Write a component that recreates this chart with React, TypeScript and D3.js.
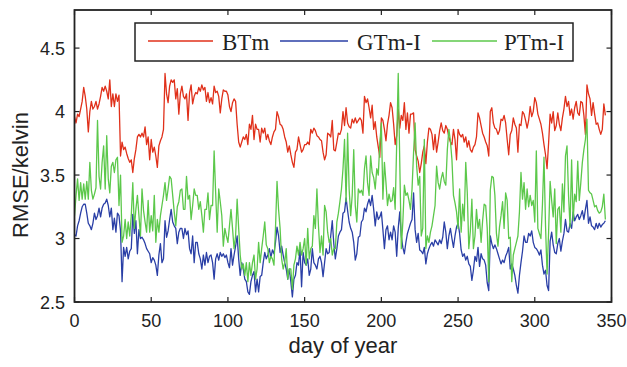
import * as d3 from "d3";

// daily RMSE (kelvin), day 0..346
const btm = [
  3.96, 3.91, 3.98, 3.96, 4.02, 4.08, 4.19, 4.12, 4.02, 3.84,
  4.00, 4.08, 4.02, 4.04, 4.08, 4.02, 4.06, 4.12, 4.19, 4.16,
  4.20, 4.16, 4.10, 4.25, 4.04, 4.14, 4.04, 4.14, 4.08, 4.13,
  3.65, 3.76, 3.70, 3.72, 3.67, 3.63, 3.60, 3.62, 3.52, 3.63,
  3.70, 3.80, 3.82, 3.80, 3.83, 3.80, 3.88, 3.74, 3.80, 3.62,
  3.78, 3.68, 3.72, 3.65, 3.56, 3.73, 3.77, 3.80, 3.86, 4.30,
  4.14, 4.07, 4.20, 4.25, 4.23, 4.25, 4.10, 4.18, 3.98, 4.14,
  4.20, 4.12, 4.10, 4.14, 3.93, 4.15, 4.21, 4.06, 4.12, 4.15,
  4.14, 4.19, 4.16, 4.21, 4.17, 4.19, 4.08, 4.15, 4.07, 4.11,
  4.06, 4.20, 4.15, 4.16, 4.12, 3.99, 4.10, 4.17, 4.16, 4.16,
  4.13, 4.04, 4.00, 4.07, 4.10, 4.08, 3.90, 3.76, 3.72, 3.76,
  3.80, 3.78, 3.82, 3.74, 3.90, 3.86, 3.97, 3.78, 3.90, 3.86,
  3.86, 3.76, 3.87, 3.83, 3.87, 3.78, 3.82, 3.77, 3.74, 3.80,
  3.84, 3.86, 4.00, 3.96, 3.90, 3.89, 3.86, 3.80, 3.76, 3.68,
  3.73, 3.66, 3.60, 3.56, 3.68, 3.70, 3.80, 3.74, 3.68, 3.70,
  3.74, 3.74, 3.76, 3.74, 3.86, 3.83, 3.87, 3.85, 3.81, 3.80,
  3.78, 3.77, 3.68, 3.62, 3.66, 3.83, 3.82, 3.80, 3.93, 3.70,
  3.69, 3.76, 3.83, 3.82, 3.86, 4.00, 3.89, 4.03, 3.91, 3.88,
  3.87, 3.94, 3.91, 3.95, 3.91, 3.93, 3.95, 3.93, 3.83, 4.12,
  4.07, 4.10, 4.03, 3.95, 4.05, 3.86, 3.92, 3.80, 3.72, 3.64,
  3.95, 3.93, 3.86, 3.77, 3.90, 3.97, 4.07, 4.03, 3.90, 3.74,
  3.81, 4.02, 3.87, 3.97, 3.93, 4.07, 3.86, 3.99, 3.83, 3.98,
  3.98, 3.99, 3.70, 3.65, 3.61, 3.52, 3.59, 3.68, 3.73, 3.59,
  3.76, 3.87, 3.86, 3.82, 3.70, 3.82, 3.68, 3.76, 3.85, 3.91,
  3.85, 3.83, 3.89, 3.86, 3.80, 3.76, 3.74, 3.86, 3.78, 3.62,
  3.86, 3.82, 3.80, 3.82, 3.76, 3.80, 3.72, 3.77, 3.70, 3.68,
  3.72, 3.74, 3.80, 3.99, 3.95, 3.89, 3.83, 3.80, 3.76, 3.73,
  3.65, 4.00, 4.03, 3.91, 3.87, 3.86, 3.82, 3.85, 3.94, 3.93,
  3.97, 3.91, 3.78, 3.66, 3.82, 3.85, 3.95, 3.90, 3.87, 3.68,
  3.90, 3.89, 4.00, 3.98, 3.93, 3.87, 3.93, 4.04, 3.96, 4.00,
  4.11, 4.07, 3.98, 3.94, 3.90, 3.83, 3.74, 3.66, 3.55, 3.75,
  3.98, 3.91, 4.00, 3.85, 3.89, 3.99, 3.90, 3.85, 3.95, 4.02,
  4.12, 4.04, 4.08, 3.97, 4.02, 3.94, 4.03, 4.08, 3.99, 3.97,
  4.08, 4.07, 3.97, 3.82, 4.21, 4.14, 4.10, 3.97, 4.07, 3.98,
  3.90, 3.91, 3.86, 3.82, 3.86, 4.06, 3.97,
];

const gtmI = [
  3.03, 3.02, 3.10, 3.14, 3.20, 3.25, 3.27, 3.27, 3.20, 3.12,
  3.10, 3.07, 3.12, 3.20, 3.15, 3.18, 3.24, 3.17, 3.24, 3.27,
  3.28, 3.31, 3.26, 3.17, 3.24, 3.07, 3.16, 3.05, 3.20, 3.18,
  3.06, 2.66, 2.93, 2.86, 2.93, 2.84, 2.90, 2.92, 3.19, 3.04,
  3.14, 2.88, 3.07, 3.00, 3.01, 2.99, 2.96, 2.92, 2.90, 2.88,
  2.81, 2.85, 2.83, 2.79, 2.71, 2.87, 2.96, 2.81, 2.84, 3.14,
  3.01, 3.06, 3.15, 3.23, 3.13, 3.10, 3.08, 2.96, 3.05, 3.08,
  3.08, 3.00, 3.08, 3.03, 3.06, 2.92, 2.88, 3.02, 2.81, 2.97,
  2.97, 2.88, 2.84, 2.76, 2.87, 2.79, 2.89, 2.81, 2.86, 2.87,
  2.81, 2.68, 2.84, 2.88, 2.83, 2.89, 2.86, 2.88, 2.85, 2.87,
  2.81, 2.77, 2.92, 2.79, 2.87, 2.94, 3.02, 2.84, 2.71, 2.81,
  2.76, 2.68, 2.66, 2.58, 2.56, 2.66, 2.71, 2.74, 2.58, 2.68,
  2.58, 2.70, 2.71, 2.81, 2.89, 2.84, 2.87, 2.92, 2.85, 2.91,
  2.88, 2.97, 3.09, 3.02, 2.89, 2.94, 2.87, 2.81, 2.76, 2.68,
  2.76, 2.66, 2.54, 2.68, 2.71, 2.81, 2.79, 2.92, 2.62, 2.89,
  2.81, 2.79, 2.84, 2.71, 2.76, 2.92, 2.81, 2.79, 2.76, 2.84,
  2.86, 2.81, 2.70, 2.81, 2.92, 2.88, 2.89, 3.02, 3.14, 2.96,
  2.84, 2.92, 3.02, 3.05, 3.07, 3.20, 3.21, 3.32, 3.22, 3.13,
  3.08, 3.05, 2.97, 2.83, 2.88, 3.01, 3.02, 3.13, 3.15, 3.24,
  3.21, 3.27, 3.31, 3.26, 3.34, 3.23, 3.10, 3.21, 3.15, 3.17,
  3.21, 3.07, 2.92, 3.07, 3.10, 2.99, 3.05, 2.99, 3.10, 3.05,
  2.86, 3.08, 3.21, 3.02, 2.93, 2.88, 2.97, 3.04, 3.08, 3.12,
  3.15, 3.36, 3.07, 2.97, 3.04, 2.91, 2.90, 2.88, 2.93, 2.80,
  2.88, 2.92, 2.95, 2.97, 2.94, 2.99, 2.97, 2.95, 2.99, 2.96,
  3.01, 3.13, 3.05, 2.92, 3.02, 3.08, 3.00, 2.93, 3.02, 3.09,
  3.12, 3.04, 2.91, 2.86, 2.88, 2.83, 2.86, 2.80, 2.78, 2.67,
  2.75, 2.86, 2.82, 2.93, 2.78, 2.88, 2.84, 2.83, 2.79, 2.65,
  2.59, 3.02, 2.96, 2.92, 2.95, 2.92, 2.88, 2.84, 2.80, 2.83,
  2.81, 2.86, 2.89, 2.93, 2.76, 2.80, 2.76, 2.71, 2.63, 2.57,
  2.71, 2.81, 2.90, 3.02, 2.97, 2.97, 3.04, 3.02, 3.06, 2.97,
  2.93, 2.92, 2.90, 2.87, 2.91, 2.79, 2.72, 2.75, 2.63, 2.59,
  2.98, 3.05, 2.95, 2.89, 2.88, 2.96, 3.00, 2.90, 2.98, 3.04,
  3.15, 3.06, 3.05, 3.12, 3.08, 3.21, 3.14, 3.17, 3.19, 3.15,
  3.18, 3.22, 3.15, 3.23, 3.30, 3.12, 3.17, 3.10, 3.09, 3.07,
  3.12, 3.08, 3.12, 3.09, 3.11, 3.12, 3.14,
];

const ptmI = [
  3.18, 3.34, 3.47, 3.30, 3.44, 3.31, 3.43, 3.31, 3.45, 3.31,
  3.60, 3.38, 3.31, 3.35, 3.40, 3.93, 3.49, 3.39, 3.60, 3.73,
  3.39, 3.81, 3.47, 3.36, 3.57, 3.60, 3.52, 3.62, 3.64, 3.26,
  3.50, 2.97, 3.02, 3.15, 3.00, 3.13, 3.02, 3.18, 3.44, 3.08,
  3.23, 3.34, 3.18, 3.02, 3.39, 3.22, 3.13, 3.05, 3.30, 3.05,
  3.18, 3.06, 3.34, 2.97, 3.15, 3.05, 3.18, 3.26, 3.34, 3.44,
  3.30, 3.39, 3.49, 3.47, 3.34, 3.21, 3.10, 3.25, 3.29, 3.38,
  3.39, 3.23, 3.23, 3.49, 3.31, 3.34, 3.15, 3.26, 3.39, 3.34,
  3.34, 3.23, 3.29, 3.18, 3.05, 3.23, 3.23, 3.36, 3.15, 3.26,
  3.26, 3.69, 3.36, 3.05, 3.39, 3.29, 3.18, 2.94, 3.08, 3.02,
  2.97, 3.10, 3.23, 3.08, 2.92, 3.02, 3.31, 3.08, 2.87, 2.76,
  2.80, 2.71, 2.81, 2.66, 2.81, 2.71, 2.81, 2.87, 2.68, 2.76,
  2.97, 2.81, 2.92, 3.02, 3.13, 2.95, 2.92, 2.81, 2.86, 2.84,
  2.79, 3.08, 3.45, 3.23, 3.08, 2.84, 2.76, 2.81, 2.92, 2.68,
  2.76, 2.76, 2.60, 2.79, 2.84, 2.94, 2.87, 2.97, 2.87, 2.92,
  3.00, 2.79, 3.08, 2.84, 2.92, 2.94, 3.18, 3.08, 3.39, 3.10,
  2.89, 3.02, 2.87, 3.26, 3.21, 3.05, 2.97, 3.00, 2.87, 2.92,
  2.92, 3.13, 3.20, 3.29, 3.39, 3.55, 3.78, 3.29, 3.83, 3.39,
  3.18, 3.34, 3.70, 3.26, 3.13, 3.39, 3.36, 3.38, 3.34, 3.55,
  3.65, 3.44, 3.34, 3.65, 3.52, 3.48, 3.39, 3.55, 3.50, 3.75,
  3.91, 3.31, 3.60, 3.44, 3.26, 3.35, 3.29, 3.30, 3.40, 3.23,
  3.75, 4.30, 3.60, 2.92, 3.13, 3.42, 3.34, 3.36, 3.30, 3.23,
  3.39, 3.68, 3.91, 3.57, 3.42, 3.49, 3.02, 3.08, 3.78, 2.92,
  3.02, 2.97, 3.05, 3.10, 3.18, 3.26, 3.57, 3.44, 3.39, 3.47,
  3.52, 3.45, 3.42, 3.70, 3.86, 3.77, 3.62, 3.34, 3.28, 3.21,
  3.08, 3.39, 3.05, 3.27, 3.14, 3.60, 3.36, 2.92, 3.06, 3.31,
  2.92, 3.02, 3.23, 3.08, 3.15, 2.97, 3.14, 3.27, 3.26, 3.08,
  2.66, 3.38, 3.49, 3.48, 3.34, 3.04, 2.94, 3.09, 3.18, 3.29,
  3.08, 3.36, 3.30, 3.00, 3.01, 2.66, 2.87, 2.92, 2.97, 3.02,
  3.21, 3.52, 3.31, 3.44, 3.23, 3.39, 3.25, 3.34, 3.26, 3.30,
  3.13, 3.69, 3.08, 3.04, 3.00, 3.27, 3.64, 3.10, 2.72, 3.05,
  3.45, 3.30, 3.17, 3.39, 2.96, 3.23, 3.25, 3.05, 3.43, 3.21,
  3.65, 3.73, 3.34, 3.09, 3.62, 3.14, 3.35, 3.29, 3.61, 3.30,
  3.44, 3.60, 3.70, 3.78, 3.94, 3.38, 3.36, 3.35, 3.30, 3.25,
  3.26, 3.22, 3.20, 3.21, 3.25, 3.35, 3.15,
];

const seriesNames = ["BTm", "GTm-I", "PTm-I"];
const seriesColors = ["#e0301a", "#2a3fa6", "#5cc84b"];
const xTicks = [0, 50, 100, 150, 200, 250, 300, 350];
const yTicks = [2.5, 3, 3.5, 4, 4.5];

const W = 627;
const H = 367;
const m = { left: 74.5, right: 611.5, top: 10, bottom: 302 };
const sans = "'Liberation Sans', Arial, Helvetica, sans-serif";
const serif = "'Liberation Serif', 'Times New Roman', serif";

export default function App() {
  const x = d3.scaleLinear().domain([0, 350]).range([m.left, m.right]);
  const y = d3.scaleLinear().domain([2.5, 4.8]).range([m.bottom, m.top]);
  const line = d3.line<number>().x((_, i) => x(i)).y((v) => y(v));
  const data = [btm, gtmI, ptmI];
  const tick = 5;

  // legend slots: line start/end, label x
  const legend = [
    { x1: 148, x2: 213, tx: 222 },
    { x1: 280, x2: 348, tx: 357 },
    { x1: 432, x2: 497, tx: 504 },
  ];

  return (
    <div style={{ position: "fixed", left: 0, top: 0, width: W, height: H, background: "#fff" }}>
      <svg width={W} height={H} viewBox={`0 0 ${W} ${H}`}>
        <rect x={0} y={0} width={W} height={H} fill="#fff" />
        <defs>
          <clipPath id="plot">
            <rect x={m.left} y={m.top} width={m.right - m.left} height={m.bottom - m.top} />
          </clipPath>
        </defs>
        <g clipPath="url(#plot)">
          {data.map((vals, i) => (
            <path key={seriesNames[i]} d={line(vals) ?? ""} fill="none" stroke={seriesColors[i]} strokeWidth={1.3} strokeLinejoin="round" />
          ))}
        </g>
        {/* ticks on all four sides, pointing inward */}
        {xTicks.map((t) => (
          <g key={`x${t}`}>
            <line x1={x(t)} x2={x(t)} y1={m.bottom} y2={m.bottom - tick} stroke="#222" strokeWidth={1.2} />
            <line x1={x(t)} x2={x(t)} y1={m.top} y2={m.top + tick} stroke="#222" strokeWidth={1.2} />
            <text x={x(t)} y={327} textAnchor="middle" fontSize={18} fontFamily={sans} fill="#222">{t}</text>
          </g>
        ))}
        {yTicks.map((t) => (
          <g key={`y${t}`}>
            <line x1={m.left} x2={m.left + tick} y1={y(t)} y2={y(t)} stroke="#222" strokeWidth={1.2} />
            <line x1={m.right} x2={m.right - tick} y1={y(t)} y2={y(t)} stroke="#222" strokeWidth={1.2} />
            <text x={65} y={y(t) + 6.5} textAnchor="end" fontSize={18} fontFamily={sans} fill="#222">{t}</text>
          </g>
        ))}
        <rect x={m.left} y={m.top} width={m.right - m.left} height={m.bottom - m.top} fill="none" stroke="#222" strokeWidth={1.8} />
        <text x={(m.left + m.right) / 2} y={353} textAnchor="middle" fontSize={22} fontFamily={sans} fill="#222">day of year</text>
        <text transform={`translate(28, 175) rotate(-90)`} textAnchor="middle" fontSize={22} fontFamily={sans} fill="#222">RMSE/kelvin</text>
        <g>
          <rect x={135} y={23} width={438} height={38} fill="#fff" stroke="#222" strokeWidth={1.5} />
          {legend.map((l, i) => (
            <g key={seriesNames[i]}>
              <line x1={l.x1} x2={l.x2} y1={41} y2={41} stroke={seriesColors[i]} strokeWidth={1.5} />
              <text x={l.tx} y={50} fontSize={23} fontFamily={serif} fill="#222">{seriesNames[i]}</text>
            </g>
          ))}
        </g>
      </svg>
    </div>
  );
}
